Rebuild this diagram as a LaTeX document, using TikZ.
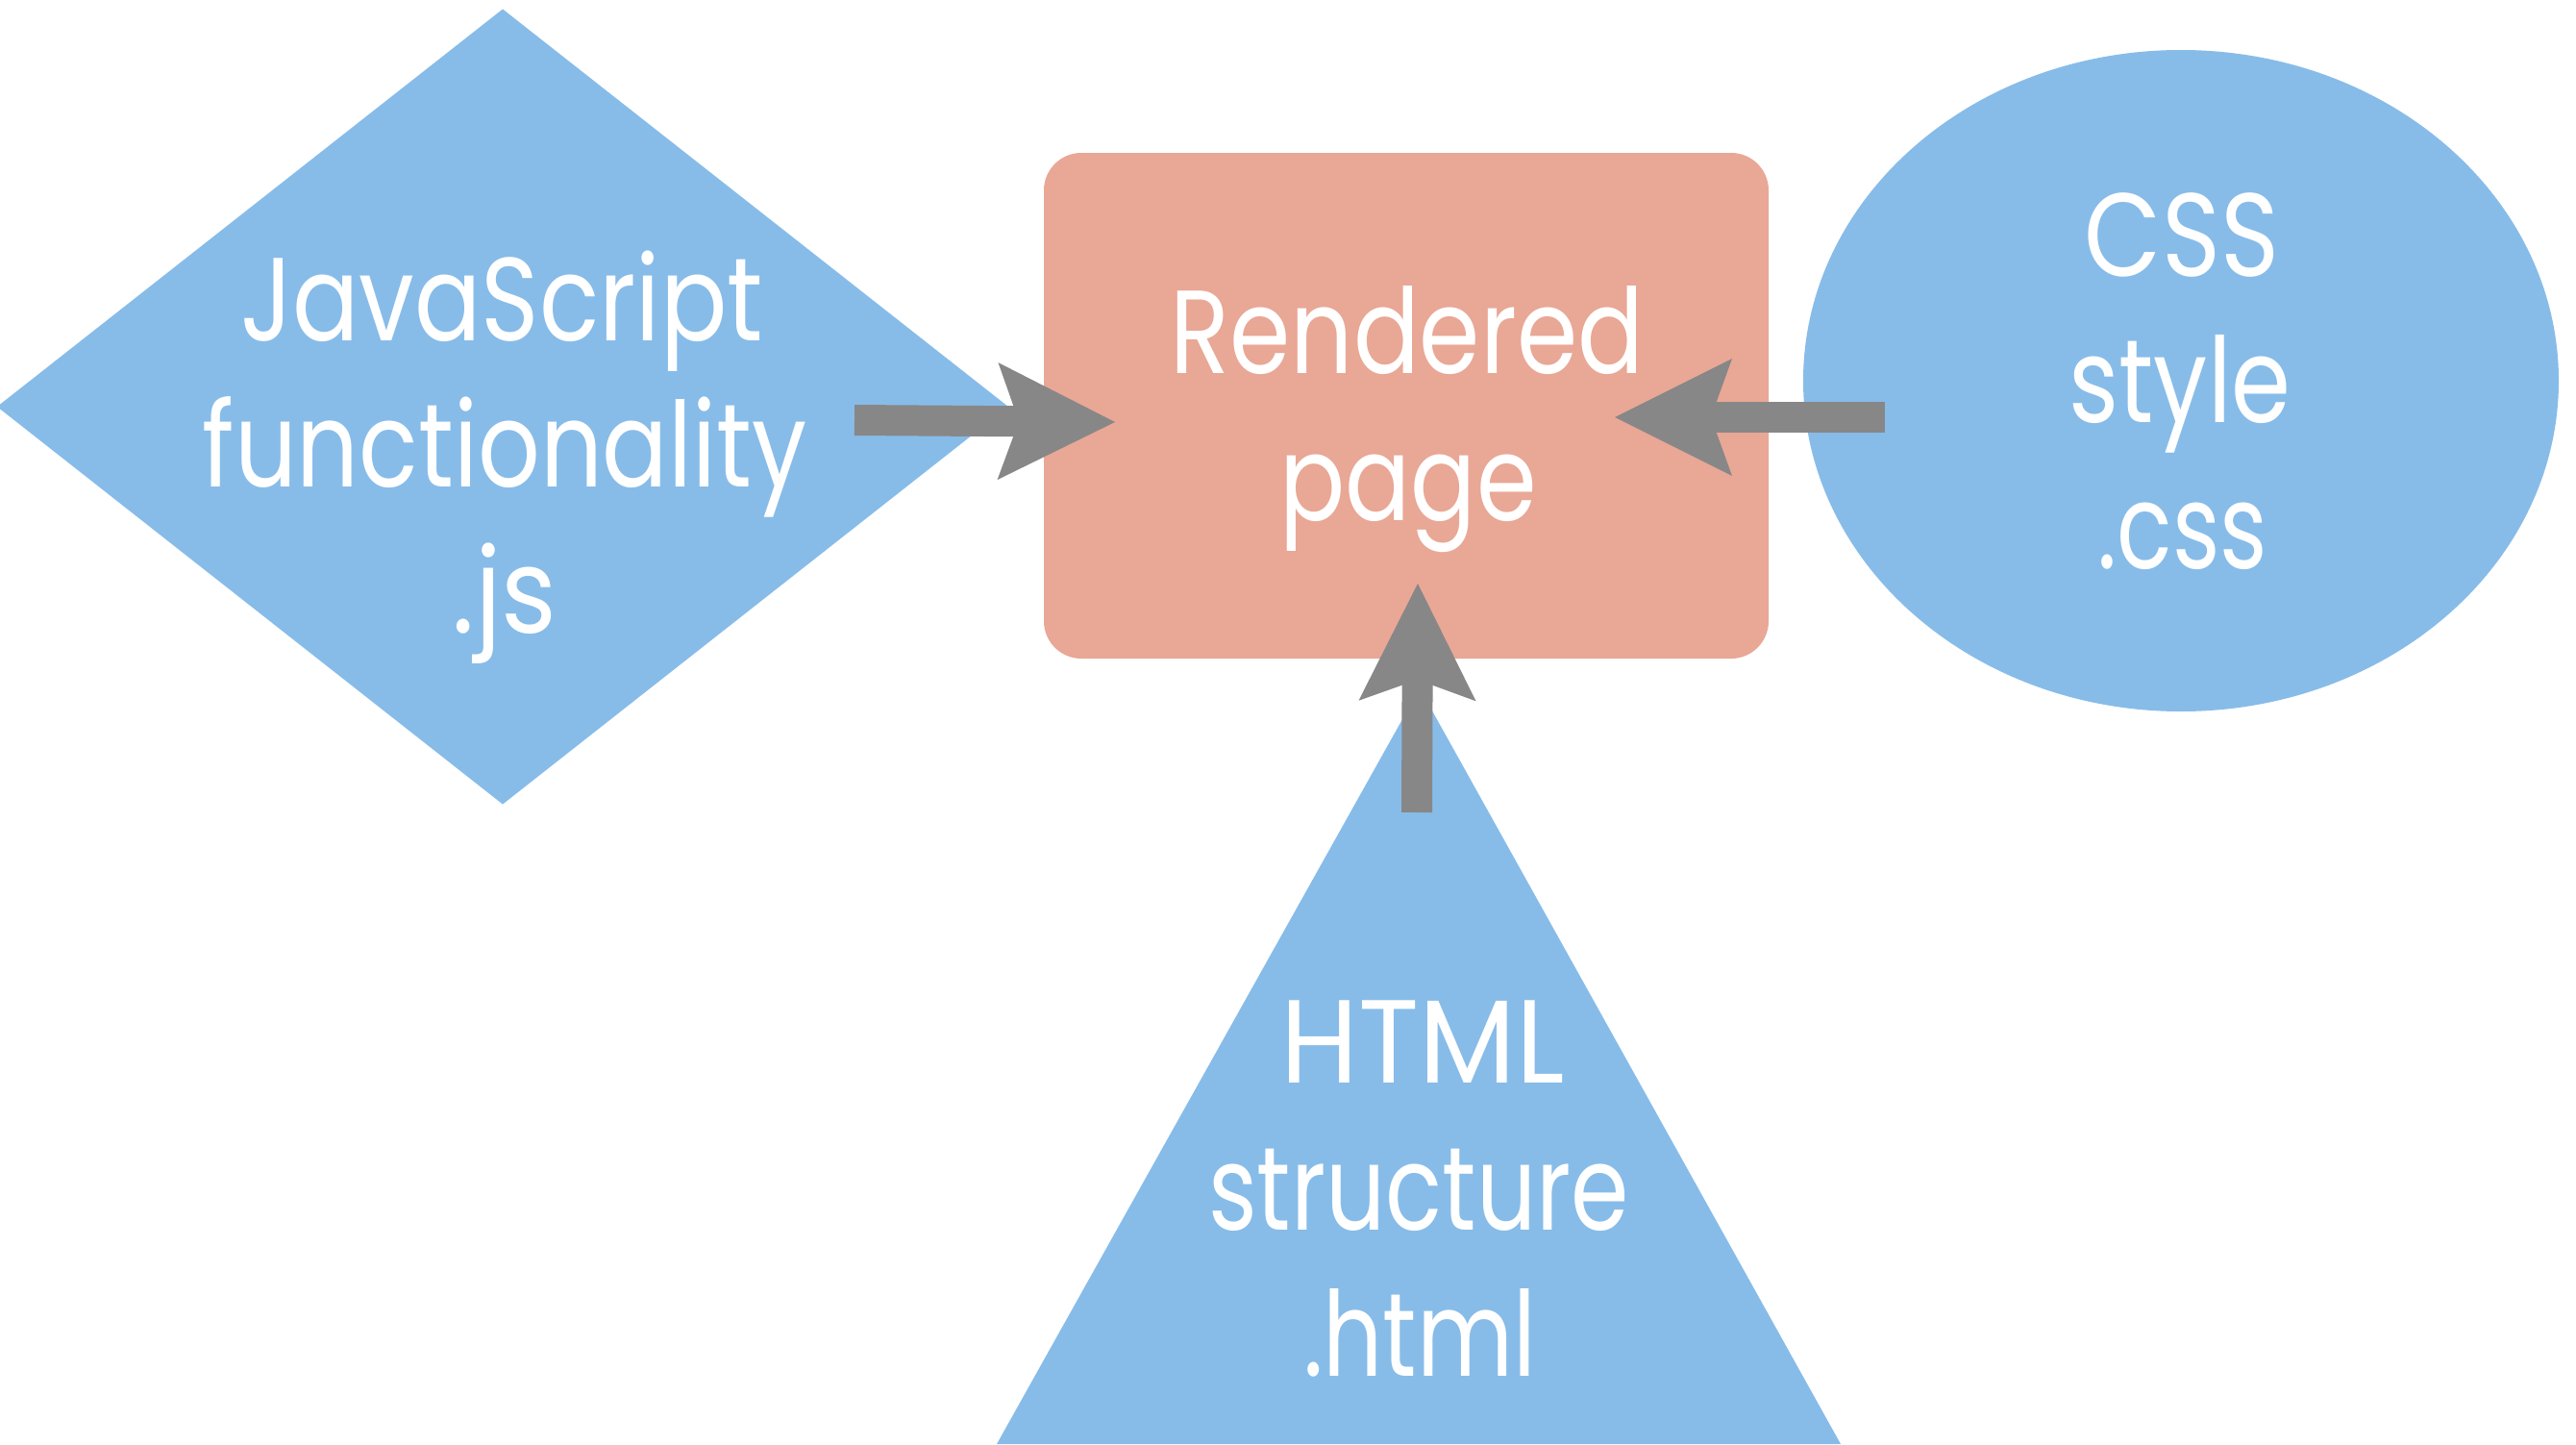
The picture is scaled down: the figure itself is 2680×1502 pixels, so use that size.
\documentclass[tikz,border=0pt]{standalone}
\usepackage{fontspec}
\usepackage{graphicx}
\setmainfont{Poppins}
\usetikzlibrary{shapes.geometric,arrows.meta}
\definecolor{shapeblue}{HTML}{87BCE9}
\definecolor{pagesalmon}{HTML}{E9A796}
\definecolor{arrowgray}{HTML}{878787}
\newcommand{\sqz}[2]{\scalebox{#1}[1]{#2}}
\tikzset{
  txt/.style={text=white, font=\fontsize{123}{152}\selectfont, inner sep=0pt, anchor=base},
  flow/.style={draw=arrowgray, line width=32pt,
    -{Stealth[length=122pt,width=122pt,inset=22pt,line width=0pt]}},
  blueshape/.style={fill=shapeblue, draw=none, inner sep=0pt, outer sep=0pt},
}
\begin{document}
\begin{tikzpicture}[x=1pt,y=-1pt]
\useasboundingbox (0,0) rectangle (2680,1502);
% shapes
\node[diamond, blueshape, minimum width=1052pt, minimum height=827pt] (js) at (523,423) {};
\node[ellipse, blueshape, minimum width=786pt, minimum height=688pt] (css) at (2269,396) {};
\node[rectangle, rounded corners=39pt, fill=pagesalmon, inner sep=0pt, minimum width=754pt, minimum height=526pt] (page) at (1463,422) {};
\fill[shapeblue] (1477,716) coordinate (htmltop) -- (1915,1502) coordinate (htmlright) -- (1037,1502) coordinate (htmlleft) -- cycle;
% texts
\node[txt] (js1) at (522,354) {\sqz{0.835}{JavaScript}};
\node[txt] (js2) at (525,506) {\sqz{0.824}{functionality}};
\node[txt] (js3) at (525,658) {\sqz{0.90}{.js}};
\node[txt] (pg1) at (1464,388) {\sqz{0.828}{Rendered}};
\node[txt] (pg2) at (1465,541) {\sqz{0.82}{page}};
\node[txt] (cs1) at (2270,287) {\sqz{0.845}{CSS}};
\node[txt] (cs2) at (2268,439) {\sqz{0.81}{style}};
\node[txt] (cs3) at (2271,591) {\sqz{0.77}{.css}};
\node[txt] (ht1) at (1480,1126) {\sqz{0.95}{HTML}};
\node[txt] (ht2) at (1476,1279) {\sqz{0.79}{structure}};
\node[txt] (ht3) at (1477,1431) {\sqz{0.79}{.html}};
% connectors
\coordinate (jsA) at (889,437);
\coordinate (jsB) at (1160,439);
\coordinate (cssA) at (1961,434);
\coordinate (cssB) at (1680,434);
\coordinate (htA) at (1474,845);
\coordinate (htB) at (1475,607);
\draw[flow] (jsA) -- (jsB);
\draw[flow] (cssA) -- (cssB);
\draw[flow] (htA) -- (htB);
\end{tikzpicture}
\end{document}
